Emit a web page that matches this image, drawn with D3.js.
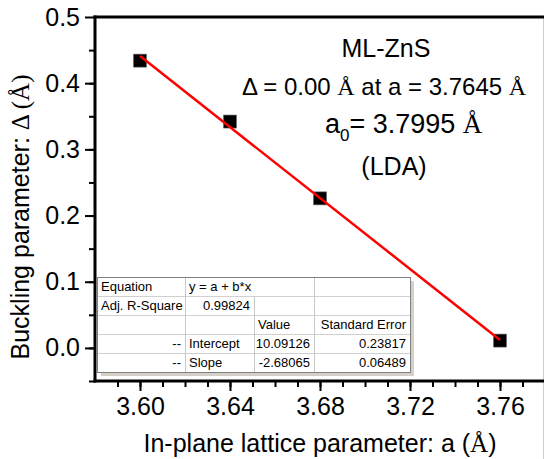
<!DOCTYPE html>
<html>
<head>
<meta charset="utf-8">
<script src="https://cdn.jsdelivr.net/npm/d3@7"></script>
<style>
  body { margin: 0; background: #fff; }
  svg { display: block; }
</style>
</head>
<body>
<div id="chart"></div>
<script>
// data
const latticeA = [3.60, 3.64, 3.68, 3.76];
const buckling = [0.434, 0.342, 0.226, 0.011];
const fitIntercept = 10.09126;
const fitSlope = -2.68065;
const xTicks = [3.60, 3.64, 3.68, 3.72, 3.76];
const yTicks = [0.0, 0.1, 0.2, 0.3, 0.4, 0.5];
const tableRows = [
  ["Equation", "y = a + b*x", null, ""],
  ["Adj. R-Square", "0.99824", "", ""],
  ["", "", "Value", "Standard Error"],
  ["--", "Intercept", "10.09126", "0.23817"],
  ["--", "Slope", "-2.68065", "0.06489"]
];

const W = 544, H = 459;
const sans = "'Liberation Sans', Arial, sans-serif";
const serif = "'Liberation Serif', 'Times New Roman', serif";

const svg = d3.select("#chart").append("svg")
  .attr("width", W).attr("height", H)
  .style("font-family", sans);

const pLeft = 95, pTop = 17, pBottom = 381, pRight = 590;
const x = d3.scaleLinear().domain([3.58, 3.80]).range([pLeft, pRight]);
const y = d3.scaleLinear().domain([-0.05, 0.5]).range([pBottom, pTop]);

// image edge line
svg.append("line").attr("x1", 543.5).attr("x2", 543.5).attr("y1", pTop).attr("y2", H)
  .attr("stroke", "#cfcfcf").attr("stroke-width", 1);

// minor ticks
const xMinor = d3.range(3.59, 3.80, 0.01);
const yMinor = d3.range(-0.05, 0.5, 0.05);
svg.append("g").attr("transform", `translate(0,${pBottom})`)
  .call(d3.axisBottom(x).tickValues(xMinor).tickSize(6).tickFormat(""))
  .call(g => g.select(".domain").remove())
  .selectAll("line").attr("stroke", "#000").attr("stroke-width", 2);
svg.append("g").attr("transform", `translate(${pLeft},0)`)
  .call(d3.axisLeft(y).tickValues(yMinor).tickSize(6).tickFormat(""))
  .call(g => g.select(".domain").remove())
  .selectAll("line").attr("stroke", "#000").attr("stroke-width", 2);

// major axes
const xAxis = svg.append("g").attr("transform", `translate(0,${pBottom})`)
  .call(d3.axisBottom(x).tickValues(xTicks).tickSize(10).tickSizeOuter(0).tickFormat(d3.format(".2f")));
xAxis.selectAll("text").attr("y", 16).attr("font-size", 25).attr("font-family", sans).attr("fill", "#000");

const yAxis = svg.append("g").attr("transform", `translate(${pLeft},0)`)
  .call(d3.axisLeft(y).tickValues(yTicks).tickSize(10).tickSizeOuter(0).tickFormat(d3.format(".1f")));
yAxis.selectAll("text").attr("x", -15).attr("font-size", 25).attr("font-family", sans).attr("fill", "#000");

[xAxis, yAxis].forEach(g => {
  g.select(".domain").remove();
  g.selectAll("line").attr("stroke", "#000").attr("stroke-width", 2);
});

// frame lines
svg.append("line").attr("x1", pLeft).attr("x2", pLeft).attr("y1", pTop - 1.5).attr("y2", pBottom + 1.5)
  .attr("stroke", "#000").attr("stroke-width", 3);
svg.append("line").attr("x1", pLeft - 1.5).attr("x2", pRight).attr("y1", pBottom).attr("y2", pBottom)
  .attr("stroke", "#000").attr("stroke-width", 3);
svg.append("line").attr("x1", pLeft - 1.5).attr("x2", pRight).attr("y1", pTop).attr("y2", pTop)
  .attr("stroke", "#000").attr("stroke-width", 3);

// points
svg.append("g").selectAll("path").data(latticeA).join("path")
  .attr("transform", (d, i) => `translate(${x(d)},${y(buckling[i])})`)
  .attr("d", d3.symbol().type(d3.symbolSquare).size(169))
  .attr("fill", "#000").attr("stroke", "#666").attr("stroke-width", 0.6);

// fit line
const xFit = [latticeA[0], latticeA[latticeA.length - 1]];
svg.append("path")
  .datum(xFit)
  .attr("d", d3.line().x(d => x(d)).y(d => y(fitIntercept + fitSlope * d)))
  .attr("stroke", "#ff0000").attr("stroke-width", 2.5).attr("fill", "none");

// annotations
svg.append("text").attr("x", 386).attr("y", 57).attr("text-anchor", "middle")
  .attr("font-size", 25).text("ML-ZnS");

const t2 = svg.append("text").attr("x", 384).attr("y", 95).attr("text-anchor", "middle").attr("font-size", 24);
t2.append("tspan").text("\u0394 = 0.00 ");
t2.append("tspan").attr("font-family", serif).text("\u00C5");
t2.append("tspan").text(" at a = 3.7645 ");
t2.append("tspan").attr("font-family", serif).text("\u00C5");

const t3 = svg.append("text").attr("x", 325).attr("y", 133).attr("font-size", 27);
t3.append("tspan").text("a");
t3.append("tspan").attr("font-size", 17).attr("dy", 8).text("0");
t3.append("tspan").attr("dy", -8).text("= 3.7995 ");
t3.append("tspan").attr("font-family", serif).text("\u00C5");

svg.append("text").attr("x", 394).attr("y", 175).attr("text-anchor", "middle")
  .attr("font-size", 25).text("(LDA)");

// axis titles
const xl = svg.append("text").attr("x", 320).attr("y", 452).attr("text-anchor", "middle").attr("font-size", 25);
xl.append("tspan").text("In-plane lattice parameter: a (");
xl.append("tspan").attr("font-family", serif).text("\u00C5");
xl.append("tspan").text(")");

const yl = svg.append("text").attr("transform", "translate(29,217) rotate(-90)")
  .attr("text-anchor", "middle").attr("font-size", 25);
yl.append("tspan").text("Buckling parameter: ");
yl.append("tspan").attr("font-family", serif).text("\u0394 (\u00C5)");

// fit table
const colX = [97, 185, 254, 314, 410];
const rowY = [277, 296, 315, 334, 353, 372];
const tb = svg.append("g");
tb.append("rect").attr("x", colX[0] + 4).attr("y", rowY[0] + 4)
  .attr("width", colX[4] - colX[0]).attr("height", rowY[5] - rowY[0]).attr("fill", "#d4d0c8");
tb.append("rect").attr("x", colX[0]).attr("y", rowY[0])
  .attr("width", colX[4] - colX[0]).attr("height", rowY[5] - rowY[0]).attr("fill", "#fff");
// horizontal lines
rowY.slice(1, 5).forEach(yy => tb.append("line").attr("x1", colX[0]).attr("x2", colX[4])
  .attr("y1", yy + 0.5).attr("y2", yy + 0.5).attr("stroke", "#d0d0d0"));
// vertical lines
tableRows.forEach((row, r) => {
  [1, 2, 3].forEach(c => {
    if (c === 2 && row[2] === null) return;
    tb.append("line").attr("x1", colX[c] + 0.5).attr("x2", colX[c] + 0.5)
      .attr("y1", rowY[r]).attr("y2", rowY[r + 1]).attr("stroke", "#c8c8c8");
  });
});
tb.append("rect").attr("x", colX[0] + 0.5).attr("y", rowY[0] + 0.5)
  .attr("width", colX[4] - colX[0]).attr("height", rowY[5] - rowY[0])
  .attr("fill", "none").attr("stroke", "#808080");
// cell text
const rightAligned = (r, c) => (r === 1 && c === 1) || (r >= 3 && c !== 1) || (r === 2 && c === 3);
tableRows.forEach((row, r) => {
  row.forEach((txt, c) => {
    if (!txt) return;
    const ra = rightAligned(r, c);
    tb.append("text")
      .attr("x", ra ? colX[c + 1] - 4 : colX[c] + 4)
      .attr("y", rowY[r] + 14)
      .attr("text-anchor", ra ? "end" : "start")
      .attr("font-size", 13).attr("fill", "#000").text(txt);
  });
});
</script>
</body>
</html>
